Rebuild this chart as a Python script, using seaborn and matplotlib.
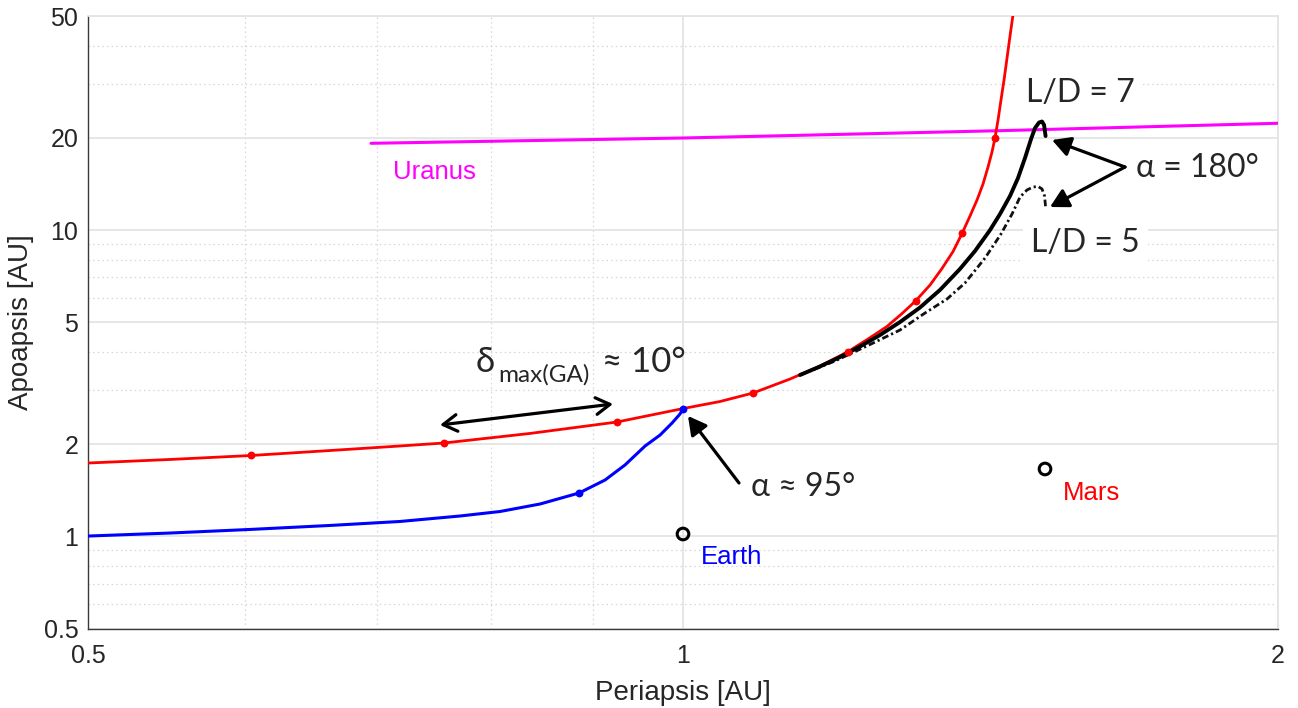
import matplotlib
matplotlib.use("Agg")
import matplotlib.pyplot as plt
import seaborn as sns

# ---------------- data ----------------
# Red curve
red_x = [0.5000, 0.5502, 0.6046, 0.6628, 0.7191, 0.7570, 0.8367, 0.9261, 1.0000,
         1.0440, 1.0850, 1.1328, 1.1731, 1.2119, 1.2405, 1.2682, 1.2907, 1.3119,
         1.3335, 1.3522, 1.3697, 1.3841, 1.3971, 1.4085, 1.4184, 1.4267, 1.4333,
         1.4383, 1.4434, 1.4484, 1.4535, 1.4586, 1.4637, 1.4685]
red_y = [1.735, 1.782, 1.836, 1.906, 1.972, 2.017, 2.167, 2.362, 2.613,
         2.755, 2.937, 3.263, 3.598, 4.007, 4.408, 4.843, 5.340, 5.888,
         6.617, 7.492, 8.511, 9.745, 11.12, 12.54, 14.14, 16.07, 17.99,
         19.98, 22.88, 26.60, 30.90, 36.46, 43.02, 50.0]
red_dot_x = [0.6046, 0.7570, 0.9261, 1.0850, 1.2119, 1.3119, 1.3841, 1.4383]
red_dot_y = [1.836, 2.017, 2.362, 2.937, 4.007, 5.888, 9.745, 19.98]

# Blue curve
blue_x = [0.5000, 0.5502, 0.6039, 0.6628, 0.7191, 0.7713, 0.8080, 0.8466, 0.8860,
          0.9132, 0.9347, 0.9568, 0.9737, 0.9874, 0.9965, 1.0000]
blue_y = [1.002, 1.025, 1.053, 1.085, 1.118, 1.165, 1.205, 1.275, 1.385,
          1.527, 1.710, 1.972, 2.142, 2.345, 2.508, 2.613]
blue_dot_x = [0.8860, 1.0000]
blue_dot_y = [1.385, 2.613]

# Uranus line
uranus_x = [0.6953, 1.0000, 1.4467, 2.0000]
uranus_y = [19.20, 19.98, 21.11, 22.32]

# L/D = 7 (solid black)
ld7_x = [1.1461, 1.1731, 1.2008, 1.2290, 1.2580, 1.2877, 1.3180, 1.3490, 1.3808,
         1.4052, 1.4300, 1.4467, 1.4637, 1.4774, 1.4895, 1.5000, 1.5070, 1.5140,
         1.5193, 1.5229, 1.5256]
ld7_y = [3.363, 3.586, 3.850, 4.166, 4.543, 5.009, 5.587, 6.374, 7.464,
         8.543, 10.00, 11.28, 12.92, 14.79, 17.20, 19.83, 21.54, 22.45,
         22.62, 22.04, 20.28]

# L/D = 5 (dash-dot black)
ld5_x = [1.1461, 1.1938, 1.2434, 1.2877, 1.3257, 1.3601, 1.3889, 1.4217, 1.4484,
         1.4671, 1.4809, 1.4930, 1.5035, 1.5123, 1.5193, 1.5238, 1.5256]
ld5_y = [3.363, 3.736, 4.229, 4.717, 5.360, 5.955, 6.717, 8.105, 9.71,
         11.28, 12.82, 13.52, 13.82, 13.88, 13.62, 12.92, 11.89]

# Planets
planet_names = ["Earth", "Mars"]
planet_x = [1.000, 1.5246]
planet_y = [1.0175, 1.659]

x_ticks = [0.5, 1, 2]
x_ticklabels = ["0.5", "1", "2"]
x_minor = [0.6, 0.7, 0.8, 0.9]
y_ticks = [0.5, 1, 2, 5, 10, 20, 50]
y_ticklabels = ["0.5", "1", "2", "5", "10", "20", "50"]
y_minor = [0.6, 0.7, 0.8, 0.9, 3, 4, 6, 7, 8, 9, 30, 40]

# ---------------- figure ----------------
sns.set_theme(style="white")
plt.rcParams["font.family"] = ["Liberation Sans", "DejaVu Sans"]

W, H = 1298, 708
fig = plt.figure(figsize=(W / 100, H / 100), dpi=100)
L, R, T, B = 88, 1278, 16, 628.5
ax = fig.add_axes([L / W, 1 - B / H, (R - L) / W, (B - T) / H])


def fp(x, y):
    return (x / W, 1 - y / H)


ax.set_xscale("log")
ax.set_yscale("log")
ax.set_xlim(0.5, 2)
ax.set_ylim(0.5, 50)

ax.set_axisbelow(True)
ax.set_xticks(x_ticks)
ax.set_xticklabels(x_ticklabels)
ax.set_xticks(x_minor, minor=True)
ax.set_xticklabels([], minor=True)
ax.set_yticks(y_ticks)
ax.set_yticklabels(y_ticklabels)
ax.set_yticks(y_minor, minor=True)
ax.set_yticklabels([], minor=True)

ax.grid(which="major", color="#e4e4e4", lw=1.3, ls="-")
ax.grid(which="minor", color="#d6d6d6", lw=0.9, ls=(0, (1.2, 2.5)))

for s in ["left", "bottom"]:
    ax.spines[s].set_color("#3a3a3a")
    ax.spines[s].set_linewidth(1.0)
for s in ["top", "right"]:
    ax.spines[s].set_color("#e4e4e4")
    ax.spines[s].set_linewidth(1.3)

ax.tick_params(which="both", direction="in", top=False, right=False,
               color="#3a3a3a", labelcolor="#262626", width=1.0)
ax.tick_params(which="major", length=8.5, labelsize=18)
ax.tick_params(which="minor", length=5.5)
ax.tick_params(axis="x", which="major", pad=11)
ax.tick_params(axis="y", which="major", pad=7)

ax.set_xlabel("Periapsis [AU]", fontsize=20, color="#262626")
ax.set_ylabel("Apoapsis [AU]", fontsize=20, color="#262626")
ax.xaxis.set_label_coords(0.5, (B - 680) / (B - T))
ax.yaxis.set_label_coords((34 - L) / (R - L), 0.5)

# ---------------- curves ----------------
sns.lineplot(x=uranus_x, y=uranus_y, color="#ff00ff", lw=2.2, sort=False,
             estimator=None, ax=ax, zorder=3)
sns.lineplot(x=red_x, y=red_y, color="#ff0000", lw=2.0, sort=False,
             estimator=None, ax=ax, zorder=4)
sns.lineplot(x=blue_x, y=blue_y, color="#0000ff", lw=2.2, sort=False,
             estimator=None, ax=ax, zorder=4)
sns.lineplot(x=ld5_x, y=ld5_y, color="#111111", lw=2.0, sort=False,
             estimator=None, ax=ax, zorder=5, linestyle=(0, (2.4, 1.1, 0.8, 1.1)))
sns.lineplot(x=ld7_x, y=ld7_y, color="black", lw=2.8, sort=False,
             estimator=None, ax=ax, zorder=6)

sns.scatterplot(x=red_dot_x, y=red_dot_y, color="#ff0000", s=32, linewidth=0,
                ax=ax, zorder=7)
sns.scatterplot(x=blue_dot_x, y=blue_dot_y, color="#0000ff", s=32, linewidth=0,
                ax=ax, zorder=7)
sns.scatterplot(x=planet_x, y=planet_y, marker="o", facecolor="none",
                edgecolor="black", s=70, linewidth=2.2, ax=ax, zorder=7)

# ---------------- planet labels ----------------
fig.text(*fp(393, 172), "Uranus", color="#ff00ff", fontsize=18.5, ha="left", va="center")
fig.text(*fp(701, 557), planet_names[0], color="#0000ff", fontsize=18.5, ha="left", va="center")
fig.text(*fp(1063, 493), planet_names[1], color="#ff0000", fontsize=18.5, ha="left", va="center")

# ---------------- annotations ----------------
afam = ["Lato", "DejaVu Sans"]
box = dict(boxstyle="square,pad=0.25", fc="white", ec="none")
fig.text(*fp(1026, 93), "L/D = 7", fontsize=23, family=afam, ha="left",
         va="center", bbox=box, zorder=1)
fig.text(*fp(1031, 243), "L/D = 5", fontsize=23, family=afam, ha="left",
         va="center", bbox=box, zorder=1)
fig.text(*fp(1136, 168), "α = 180°", fontsize=23, family=afam, ha="left", va="center")
fig.text(*fp(751, 487), "α ≈ 95°", fontsize=23, family=afam, ha="left", va="center")

# delta annotation (pieces)
fig.text(*fp(476, 372), "δ", fontsize=25, family=afam, ha="left", va="baseline")
fig.text(*fp(498, 382), "max(GA)", fontsize=17.5, family=afam, ha="left", va="baseline")
fig.text(*fp(602, 372), "≈ 10°", fontsize=25, family=afam, ha="left", va="baseline")

head = "-|>,head_length=0.55,head_width=0.3"
ap = dict(arrowstyle=head, lw=2.3, color="black", mutation_scale=20,
          shrinkA=0, shrinkB=0)
ax.annotate("", xy=fp(1052, 140), xycoords="figure fraction",
            xytext=fp(1125, 167), textcoords="figure fraction", arrowprops=ap)
ax.annotate("", xy=fp(1050, 207), xycoords="figure fraction",
            xytext=fp(1125, 167), textcoords="figure fraction", arrowprops=ap)
ax.annotate("", xy=fp(688, 416), xycoords="figure fraction",
            xytext=fp(739, 483), textcoords="figure fraction", arrowprops=ap)
ap2 = dict(arrowstyle="<->,head_length=0.5,head_width=0.3", lw=2.3, color="black",
           mutation_scale=20, shrinkA=0, shrinkB=0)
ax.annotate("", xy=fp(440, 425), xycoords="figure fraction",
            xytext=fp(613, 404), textcoords="figure fraction", arrowprops=ap2)

fig.savefig("out.png", dpi=100)
